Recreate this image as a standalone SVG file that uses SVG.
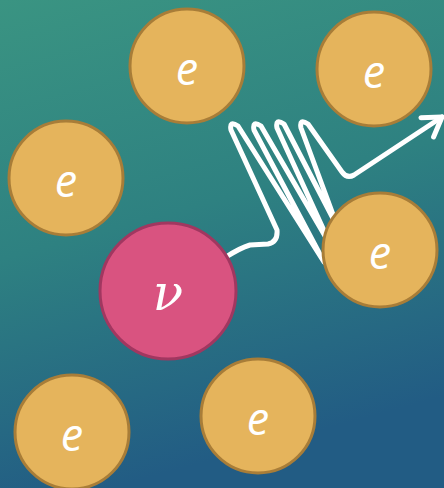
<svg xmlns="http://www.w3.org/2000/svg" width="444" height="488" viewBox="0 0 444 488">
<defs>
<linearGradient id="bg" x1="0" y1="0" x2="0.25" y2="1">
<stop offset="0" stop-color="#3a9482"/>
<stop offset="0.5" stop-color="#2e8181"/>
<stop offset="1" stop-color="#225c84"/>
</linearGradient>
<marker id="arr" markerUnits="userSpaceOnUse" markerWidth="40" markerHeight="40" refX="0" refY="0" viewBox="-25 -20 30 40" orient="auto" overflow="visible">
<path d="M -18 -11 L 0 0 L -18 12" fill="none" stroke="#ffffff" stroke-width="5" stroke-linecap="round" stroke-linejoin="round"/>
</marker>
<style>
.e circle{fill:#e5b45c;stroke:#a87d38;stroke-width:3}
.nu circle{fill:#d95380;stroke:#a13760;stroke-width:3}
text{fill:#ffffff;font-style:italic;text-anchor:middle}
.e text{font-family:"Open Sans","DejaVu Sans",sans-serif;font-size:45px}
.nu text{font-family:"DejaVu Serif","Liberation Serif",serif;font-size:50px}
.wave{fill:none;stroke:#ffffff;stroke-width:5;stroke-linecap:round;stroke-linejoin:round}
</style>
</defs>
<rect x="0" y="0" width="444" height="488" fill="url(#bg)"/>
<g id="connectors">
<path class="wave" marker-end="url(#arr)" d="M 226 257 Q 240 248 250 245 L 268 244 Q 278 242 277 230 L 231 130 Q 229 120 238 126 L 324 262 L 254 130 Q 252 120 261 126 L 332 248 L 277 128 Q 275 118 284 124 L 338 228 L 301 128 Q 299 118 308 124 L 342 172 Q 347 179 354 175 L 442 117"/>
</g>
<g id="e1" class="e"><circle cx="187" cy="66" r="57"/><text x="187" y="85">e</text></g>
<g id="e2" class="e"><circle cx="374" cy="69" r="57"/><text x="374" y="88">e</text></g>
<g id="e3" class="e"><circle cx="66" cy="178" r="57"/><text x="66" y="197">e</text></g>
<g id="e4" class="e"><circle cx="380" cy="250" r="57"/><text x="380" y="269">e</text></g>
<g id="e5" class="e"><circle cx="72" cy="432" r="57"/><text x="72" y="451">e</text></g>
<g id="e6" class="e"><circle cx="258" cy="416" r="57"/><text x="258" y="435">e</text></g>
<g id="nu" class="nu"><circle cx="168" cy="291" r="68"/><text x="168" y="310">ν</text></g>
</svg>
